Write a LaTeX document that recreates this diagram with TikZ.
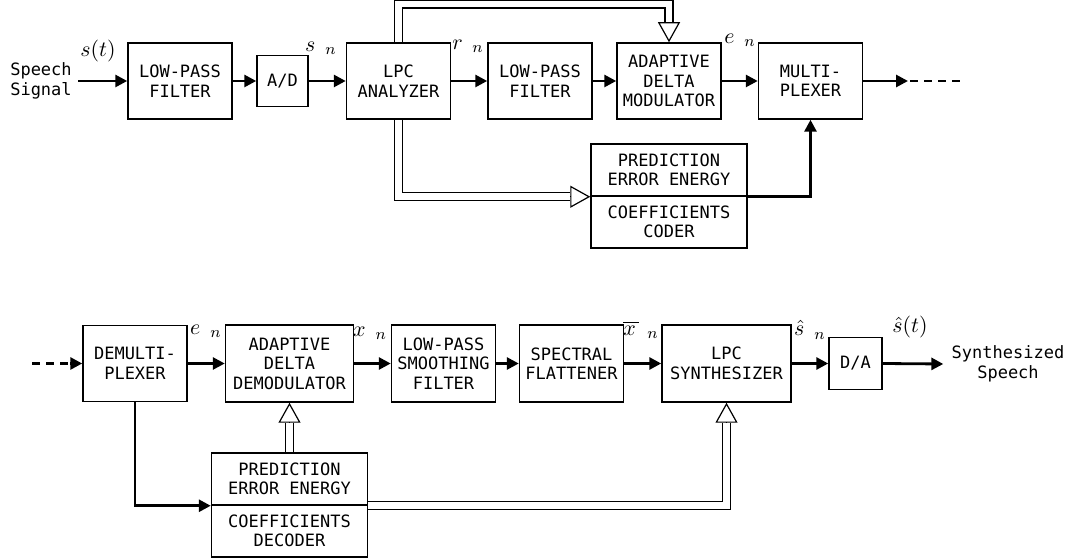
\documentclass[tikz,border=0pt]{standalone}
\usepackage{fontspec}
\newfontfamily\blockfont{DejaVu Sans Mono}
\usetikzlibrary{arrows.meta,calc,backgrounds}

\begin{document}
\begin{tikzpicture}[x=0.5pt,y=-0.5pt,
    font=\blockfont\fontsize{8.5}{9.75}\selectfont,
    block/.style={draw,line width=0.75pt,align=center,inner sep=0pt,
                  minimum width=52pt,minimum height=38pt},
    half/.style={block,minimum width=78pt,minimum height=26pt},
    txt/.style={align=center,inner sep=0pt},
    lbl/.style={font=\fontsize{11}{13}\selectfont,inner sep=0pt},
    sig/.style={line width=1.4pt,-{Triangle[length=6pt,width=6pt]}},
    pipe/.style={line width=0.6pt,double,double distance=3.4pt},
    hollow/.style={line width=0.6pt,-{Triangle[open,length=10pt,width=11pt]}}]
    \useasboundingbox (0,0) rectangle (1075,560);

    % transmitter
    \node[txt] (src) at (41,81) {Speech\\Signal};
    \node[block] (lpfa) at (180,81) {LOW-PASS\\FILTER};
    \node[block,minimum width=25.5pt,minimum height=25.5pt] (ad) at (282.5,81) {A/D};
    \node[block] (lpc) at (398.5,81) {LPC\\ANALYZER};
    \node[block] (lpfb) at (540,81) {LOW-PASS\\FILTER};
    \node[block] (adm) at (669,81) {ADAPTIVE\\DELTA\\MODULATOR};
    \node[block] (mux) at (810.5,81) {MULTI-\\PLEXER};
    \node[half] (pee) at (669,170) {PREDICTION\\ERROR ENERGY};
    \node[half] (coder) at (669,222) {COEFFICIENTS\\CODER};

    \node[lbl] (st) at (98,51) {$s(t)$};
    \node[lbl] (sn) at (321,48) {$s_{\hspace{5pt}n}$};
    \node[lbl] (rn) at (468,46) {$r_{\hspace{5pt}n}$};
    \node[lbl] (en) at (740,40) {$e_{\hspace{5pt}n}$};

    \coordinate (mo) at (908,81);
    \coordinate (mend) at (960,81);

    \draw[sig] ([xshift=3pt]src.east) -- (lpfa.west);
    \draw[sig] (lpfa.east) -- (ad.west);
    \draw[sig] (ad.east) -- (lpc.west);
    \draw[sig] (lpc.east) -- (lpfb.west);
    \draw[sig] (lpfb.east) -- (adm.west);
    \draw[sig] (adm.east) -- (mux.west);
    \draw[sig] (mux.east) -- (mo);
    \draw[line width=1.4pt,dash pattern=on 4pt off 3pt] ([xshift=1pt]mo) -- (mend);
    \draw[sig] (pee.south east) -| (mux.south);

    \begin{scope}[on background layer]
        \draw[pipe] (lpc.north) -- (lpc.north |- 0,4) -| ($(adm.north)+(0,-20)$);
        \draw[pipe] (lpc.south) |- ($(pee.south west)+(-20,0)$);
    \end{scope}
    \draw[hollow] ($(adm.north)+(0,-20)$) -- (adm.north);
    \draw[hollow] ($(pee.south west)+(-20,0)$) -- (pee.south west);

    % receiver
    \node[block] (demux) at (135,363.5) {DEMULTI-\\PLEXER};
    \node[block,minimum width=64pt,minimum height=38.5pt] (addm) at (289.5,363.5) {ADAPTIVE\\DELTA\\DEMODULATOR};
    \node[block,minimum height=38.5pt] (lpsf) at (443.5,363.5) {LOW-PASS\\SMOOTHING\\FILTER};
    \node[block,minimum height=38.5pt] (sf) at (571.5,363.5) {SPECTRAL\\FLATTENER};
    \node[block,minimum width=64.5pt,minimum height=38.5pt] (syn) at (726.5,363.5) {LPC\\SYNTHESIZER};
    \node[block,minimum width=26.5pt,minimum height=26pt] (da) at (855.5,363.5) {D/A};
    \node[txt] (out) at (1008,364) {Synthesized\\Speech};
    \node[half] (ped) at (289.5,479) {PREDICTION\\ERROR ENERGY};
    \node[half] (dec) at (289.5,531) {COEFFICIENTS\\DECODER};

    \node[lbl] (en2) at (206,331) {$e_{\hspace{5pt}n}$};
    \node[lbl] (xn) at (370,333) {$x_{\hspace{5pt}n}$};
    \node[lbl] (xbn) at (641,330) {$\overline{x\,}_{\hspace{4pt}n}$};
    \node[lbl] (shn) at (810,330) {$\hat{s}_{\hspace{5pt}n}$};
    \node[lbl] (sht) at (910,327) {$\hat{s}(t)$};

    \coordinate (din) at (32,363.5);
    \coordinate (dh) at (70,363.5);

    \draw[line width=1.4pt,dash pattern=on 4pt off 3pt] (din) -- (dh);
    \draw[sig] (dh) -- (demux.west);
    \draw[sig] (demux.east) -- (addm.west);
    \draw[sig] (addm.east) -- (lpsf.west);
    \draw[sig] (lpsf.east) -- (sf.west);
    \draw[sig] (sf.east) -- (syn.west);
    \draw[sig] (syn.east) -- (da.west);
    \draw[sig] (da.east) -- ([xshift=-4pt]out.west);
    \draw[sig] (demux.south) |- (ped.south west);

    \begin{scope}[on background layer]
        \draw[pipe] (ped.north) -- ($(addm.south)+(0,20)$);
        \draw[pipe] (ped.south east) -| ($(syn.south)+(0,20)$);
    \end{scope}
    \draw[hollow] ($(addm.south)+(0,20)$) -- (addm.south);
    \draw[hollow] ($(syn.south)+(0,20)$) -- (syn.south);
\end{tikzpicture}
\end{document}
